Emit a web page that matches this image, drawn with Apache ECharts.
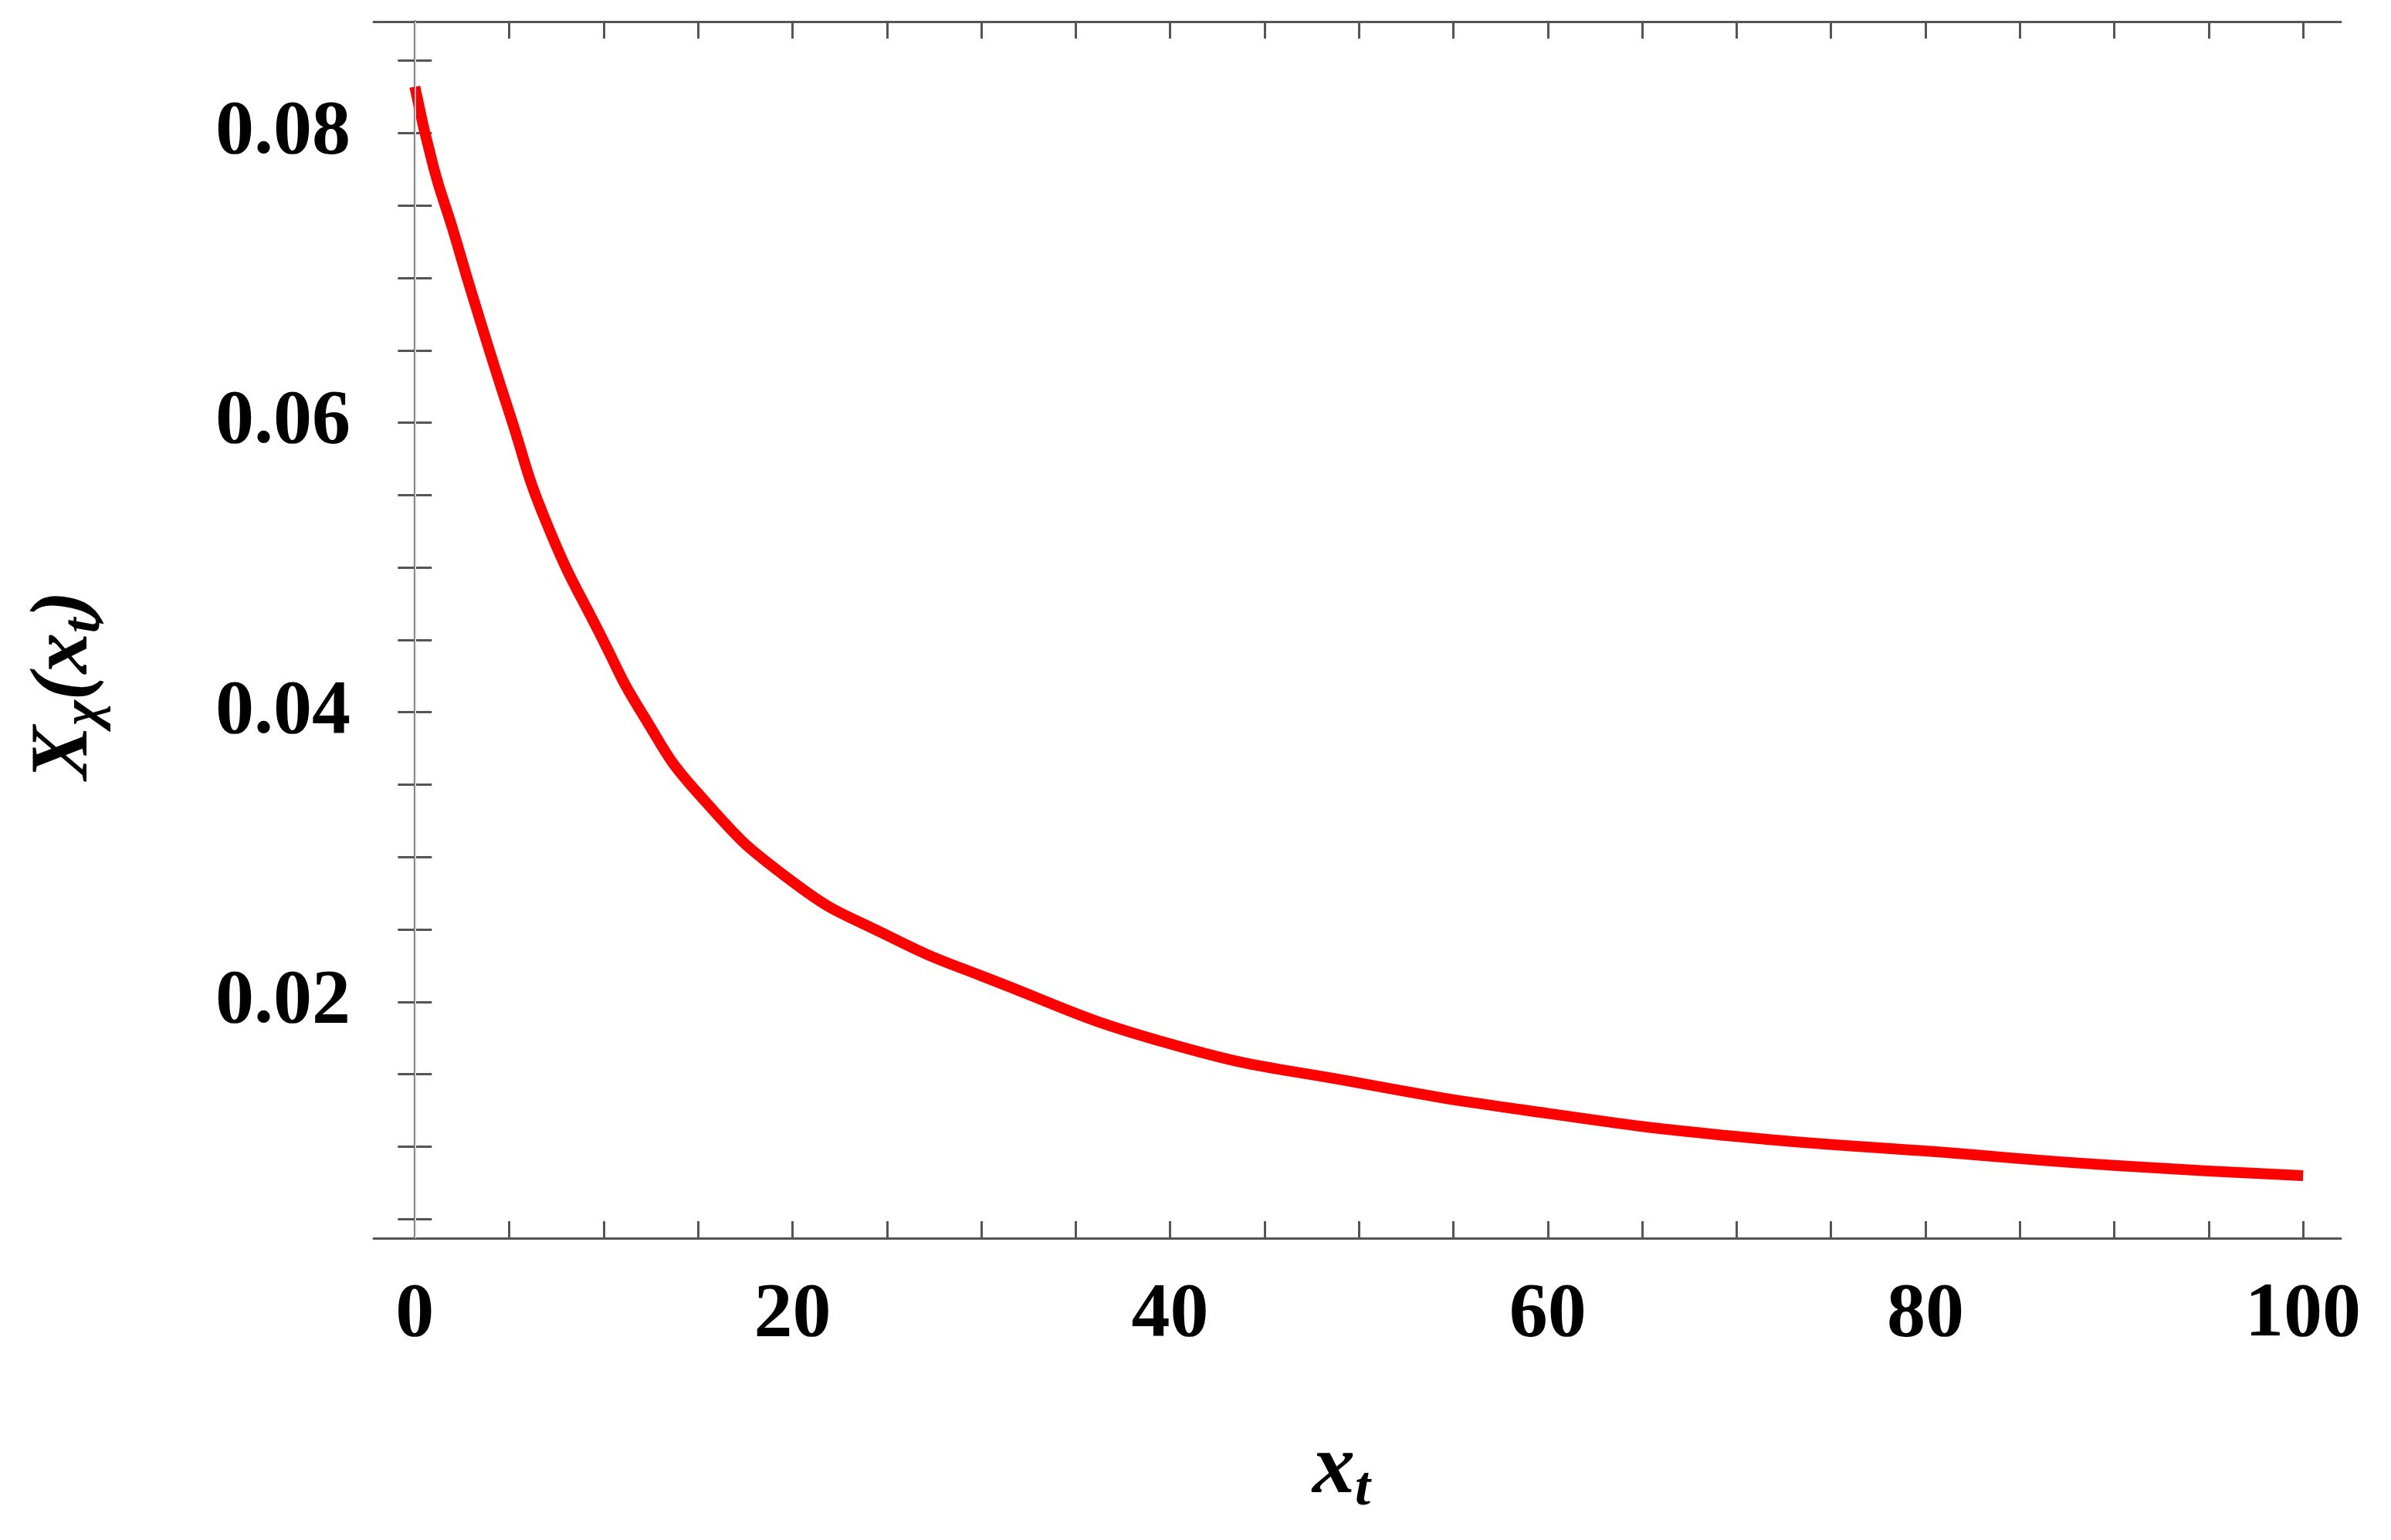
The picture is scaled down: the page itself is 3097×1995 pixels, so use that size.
<!DOCTYPE html>
<html>
<head>
<meta charset="utf-8">
<script src="https://cdn.jsdelivr.net/npm/echarts@6/dist/echarts.min.js"></script>
<style>html,body{margin:0;background:#fff}</style>
</head>
<body>
<div id="main" style="width:3097px;height:1995px;"></div>
<script>
// values
var xs = [0, 1, 2, 3, 5, 7, 10, 12, 15, 20, 25, 30, 40, 50, 60, 70, 80, 90, 100];
var ys = [0.0832, 0.0776, 0.0734, 0.0690, 0.0607, 0.0530, 0.0449, 0.0400, 0.0344, 0.0283, 0.0246, 0.0218, 0.0171, 0.0144, 0.0123, 0.0107, 0.0097, 0.0087, 0.0080];
var xLabels = [0, 20, 40, 60, 80, 100];
var yLabels = [0.02, 0.04, 0.06, 0.08];
var xTicks = [0,5,10,15,20,25,30,35,40,45,50,55,60,65,70,75,80,85,90,95,100];
var yTicks = [0.005,0.01,0.015,0.02,0.025,0.03,0.035,0.04,0.045,0.05,0.055,0.06,0.065,0.07,0.075,0.08,0.085];

var pts = xs.map(function (x, i) { return [x, ys[i]]; });
var font = 'Liberation Serif';
var frame = {lineStyle: {color: '#555', width: 3}};
var labelStyle = {fontFamily: font, fontWeight: 'bold', fontSize: 100, color: '#000'};

function tick(vals, len) {
    return {show: true, inside: true, length: len, customValues: vals, lineStyle: {color: '#555', width: 3}};
}

var chart = echarts.init(document.getElementById('main'));
chart.setOption({
    animation: false,
    grid: {left: 484, right: 65, top: 28, bottom: 391},
    xAxis: [
        {type: 'value', min: -2.18, max: 102, position: 'bottom', axisLine: frame, splitLine: {show: false},
         axisTick: tick(xTicks, 22),
         axisLabel: Object.assign({margin: 50, customValues: xLabels, formatter: function (v) { return String(v); }}, labelStyle)},
        {type: 'value', min: -2.18, max: 102, position: 'top', axisLine: frame, splitLine: {show: false},
         axisTick: tick(xTicks, 22), axisLabel: {show: false}}
    ],
    yAxis: [
        {type: 'value', min: 0.00368, max: 0.0877, position: 'left', axisLine: frame, splitLine: {show: false},
         axisTick: tick(yTicks, 22),
         axisLabel: Object.assign({margin: 30, customValues: yLabels, formatter: function (v) { return v.toFixed(2); }}, labelStyle)},
        {type: 'value', min: 0.00368, max: 0.0877, position: 'right', axisLine: frame, splitLine: {show: false},
         axisTick: tick(yTicks, 22), axisLabel: {show: false}}
    ],
    series: [{
        type: 'line', data: pts, smooth: true, symbol: 'none',
        lineStyle: {color: '#ff0000', width: 14},
        markLine: {silent: true, symbol: 'none', label: {show: false},
                   lineStyle: {color: '#ccc', width: 2, type: 'solid'}, data: [{xAxis: 0}]},
        z: 3
    }],
    graphic: [
        {type: 'text', left: 1700, top: 1850, style: {
            text: '{i|x}{s|t}',
            rich: {
                i: {fontFamily: font, fontStyle: 'italic', fontWeight: 'bold', fontSize: 110, fill: '#000'},
                s: {fontFamily: font, fontStyle: 'italic', fontWeight: 'bold', fontSize: 72, fill: '#000', padding: [50, 0, 0, 0]}
            }}},
        {type: 'text', x: 25, y: 1010, rotation: Math.PI / 2, style: {
            text: '{i|X}{s|χ}{i|(x}{s|t}{i|)}',
            rich: {
                i: {fontFamily: font, fontStyle: 'italic', fontWeight: 'bold', fontSize: 105, fill: '#000'},
                s: {fontFamily: font, fontStyle: 'italic', fontWeight: 'bold', fontSize: 70, fill: '#000', padding: [50, 0, 0, 0]}
            }}}
    ]
});
</script>
</body>
</html>
